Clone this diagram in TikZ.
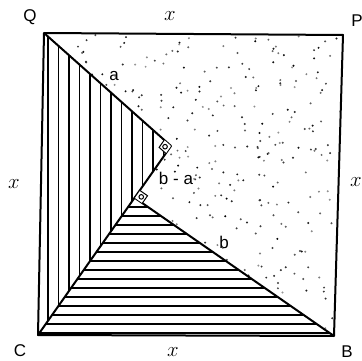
\documentclass[tikz,border=0pt]{standalone}
\usepackage{fontspec}
\setmainfont{Liberation Sans}
\usetikzlibrary{calc}

\begin{document}
\begin{tikzpicture}[x=1pt, y=-1pt,
    edge/.style={line width=2pt, line join=round},
    hatch/.style={line width=1.3pt},
    lbl/.style={font=\fontsize{17}{19}\selectfont, inner sep=0pt},
    side/.style={font=\fontsize{20}{22}\selectfont, inner sep=0pt},
    ramark/.style={line width=1pt}
]
\useasboundingbox (0,0) rectangle (362,361);

% corners of the square and the inner points
\coordinate (Q) at (44,33);
\coordinate (P) at (343,35);
\coordinate (B) at (334,336);
\coordinate (C) at (38,335);
\coordinate (A) at (171,146);
\coordinate (D) at (135,198);

% stippled part
\begin{scope}
\clip (Q) -- (P) -- (B) -- (D) -- (A) -- cycle;
\pgfmathsetseed{7}
\foreach \i in {1,...,480}{
  \pgfmathsetmacro{\dx}{40+rnd*305}
  \pgfmathsetmacro{\dy}{33+rnd*303}
  \pgfmathsetmacro{\dk}{40+rnd*60}
  \fill[black!\dk] (\dx,\dy) circle (1.1);
}
\end{scope}

% vertical hatching
\begin{scope}
\clip (Q) -- (A) -- (C) -- cycle;
\foreach \xv in {48,58.5,...,172}
  \draw[hatch] (\xv,25) -- (\xv,340);
\end{scope}

% horizontal hatching
\begin{scope}
\clip (C) -- (D) -- (B) -- cycle;
\foreach \yv in {207,216,...,336}
  \draw[hatch] (30,\yv) -- (340,\yv);
\end{scope}

% outlines
\draw[edge] (Q) -- (P) -- (B) -- (C) -- cycle;
\draw[edge] (Q) -- (A) -- (C);
\draw[edge] (D) -- (B);

% right angle marks
\coordinate (a1) at ($(A)!9pt!(Q)$);
\coordinate (a2) at ($(A)!9pt!(C)$);
\coordinate (a3) at ($(a1)+(a2)-(A)$);
\fill[white] (A) -- (a1) -- (a3) -- (a2) -- cycle;
\draw[ramark] (a1) -- (a3) -- (a2);
\draw[ramark] ($(A)!0.5!(a3)$) circle (2.3);
\coordinate (d1) at ($(D)!9pt!(A)$);
\coordinate (d2) at ($(D)!9pt!(B)$);
\coordinate (d3) at ($(d1)+(d2)-(D)$);
\fill[white] (D) -- (d1) -- (d3) -- (d2) -- cycle;
\draw[ramark] (d1) -- (d3) -- (d2);
\draw[ramark] ($(D)!0.5!(d3)$) circle (2.3);

% labels
\node[lbl] (lQ) at (30,17) {Q};
\node[lbl] (lP) at (357,21) {P};
\node[lbl] (lC) at (20,351) {C};
\node[lbl] (lB) at (347,352) {B};
\node[side] (xt) at (170,16) {$x$};
\node[side] (xl) at (14,184) {$x$};
\node[side] (xr) at (356,182) {$x$};
\node[side] (xb) at (173,352) {$x$};
\node[lbl] (la) at (114,76) {a};
\node[lbl] (lba) at (176,178) {b - a};
\node[lbl] (lb) at (224,242) {b};
\end{tikzpicture}
\end{document}
